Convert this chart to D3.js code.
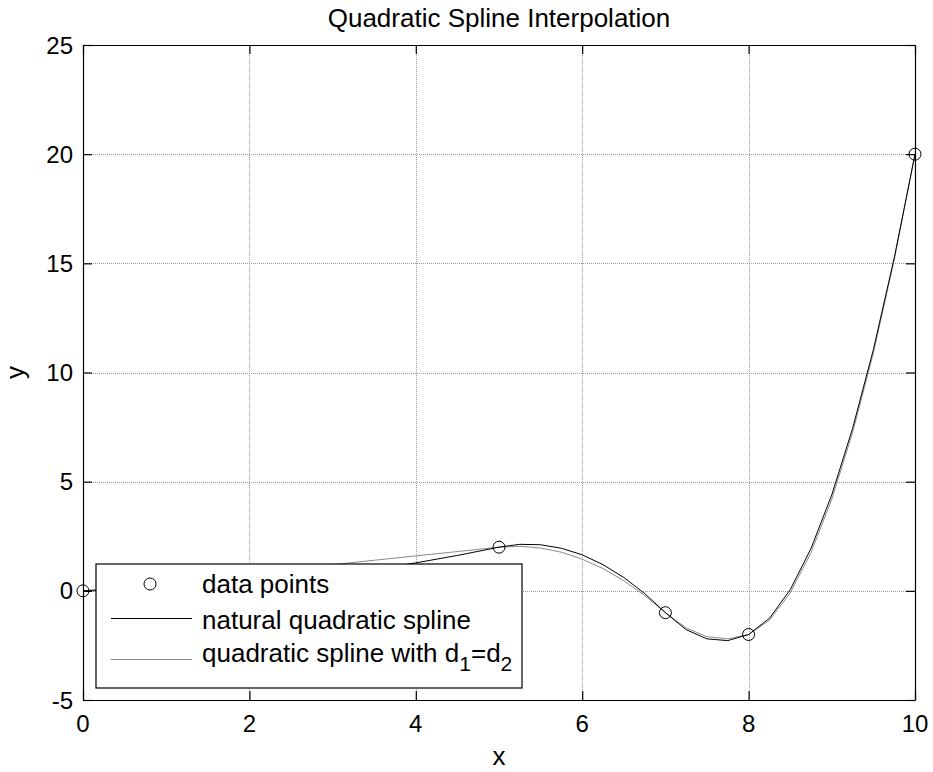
<!DOCTYPE html>
<html>
<head>
<meta charset="utf-8">
<title>Quadratic Spline Interpolation</title>
<script src="https://d3js.org/d3.v7.min.js"></script>
<style>
    body { margin: 0; background: #fff; }
    svg { display: block; font-family: "Liberation Sans", Arial, sans-serif; }
    .grid line { stroke: #9a9a9a; stroke-width: 1; stroke-dasharray: 1, 1; shape-rendering: crispEdges; }
    .tick-label { font-size: 24px; fill: #000; }
</style>
</head>
<body>
<svg></svg>
<script>
// data points
var dataX = [0, 5, 7, 8, 10];
var dataY = [0, 2, -1, -2, 20];

var curveX = [0, 0.5, 1, 1.5, 2, 2.5, 3, 3.5, 4, 4.5, 5,
    5.25, 5.5, 5.75, 6, 6.25, 6.5, 6.75, 7,
    7.25, 7.5, 7.75, 8,
    8.25, 8.5, 8.75, 9, 9.25, 9.5, 9.75, 10];
var naturalY = [0, 0.02, 0.08, 0.18, 0.32, 0.5, 0.72, 0.98, 1.28, 1.62, 2,
    2.13, 2.11, 1.95, 1.65, 1.2, 0.61, -0.12, -1,
    -1.78, -2.2, -2.28, -2,
    -1.26, 0.05, 1.94, 4.4, 7.44, 11.05, 15.24, 20];
var equalY = [0, 0.2, 0.4, 0.6, 0.8, 1, 1.2, 1.4, 1.6, 1.8, 2,
    2.04, 1.96, 1.77, 1.45, 1.02, 0.46, -0.21, -1,
    -1.7, -2.1, -2.2, -2,
    -1.35, -0.1, 1.75, 4.2, 7.25, 10.9, 15.15, 20];

var xTicks = [0, 2, 4, 6, 8, 10];
var yTicks = [-5, 0, 5, 10, 15, 20, 25];

var W = 933, H = 772;
var margin = {top: 45, right: 18, bottom: 72, left: 83};
var width = W - margin.left - margin.right,
    height = H - margin.top - margin.bottom;

var svg = d3.select("svg").attr("width", W).attr("height", H);
var g = svg.append("g").attr("transform", "translate(" + margin.left + "," + margin.top + ")");

var x = d3.scaleLinear().domain([0, 10]).range([0, width]);
var y = d3.scaleLinear().domain([-5, 25]).range([height, 0]);

// grid
var grid = g.append("g").attr("class", "grid");
grid.selectAll("line.gx").data(xTicks.slice(1, -1)).enter().append("line")
    .attr("x1", function (d) { return Math.round(x(d)) + 0.5; })
    .attr("x2", function (d) { return Math.round(x(d)) + 0.5; })
    .attr("y1", 0).attr("y2", height);
grid.selectAll("line.gy").data(yTicks.slice(1, -1)).enter().append("line")
    .attr("y1", function (d) { return Math.round(y(d)) + 0.5; })
    .attr("y2", function (d) { return Math.round(y(d)) + 0.5; })
    .attr("x1", 0).attr("x2", width);

// curves
var line = d3.line()
    .x(function (d) { return x(d[0]); })
    .y(function (d) { return y(d[1]); });

g.append("path")
    .datum(d3.zip(curveX, equalY))
    .attr("d", line)
    .attr("fill", "none")
    .attr("stroke", "#8a8a8a")
    .attr("stroke-width", 1);

g.append("path")
    .datum(d3.zip(curveX, naturalY))
    .attr("d", line)
    .attr("fill", "none")
    .attr("stroke", "#000")
    .attr("stroke-width", 1);

// axes (box with inward ticks on all sides)
var tickLen = 9;
var bottomAxis = d3.axisBottom(x).tickValues(xTicks).tickSizeInner(-tickLen).tickSizeOuter(0).tickFormat("");
var topAxis = d3.axisTop(x).tickValues(xTicks).tickSizeInner(-tickLen).tickSizeOuter(0).tickFormat("");
var leftAxis = d3.axisLeft(y).tickValues(yTicks).tickSizeInner(-tickLen).tickSizeOuter(0).tickFormat("");
var rightAxis = d3.axisRight(y).tickValues(yTicks).tickSizeInner(-tickLen).tickSizeOuter(0).tickFormat("");

g.append("g").attr("transform", "translate(0," + height + ")").call(bottomAxis);
g.append("g").call(topAxis);
g.append("g").call(leftAxis);
g.append("g").attr("transform", "translate(" + width + ",0)").call(rightAxis);
g.selectAll(".domain, .tick line").attr("stroke", "#000").attr("stroke-width", 1.2);

// tick labels
g.selectAll("text.xl").data(xTicks).enter().append("text")
    .attr("class", "tick-label")
    .attr("x", function (d) { return x(d); })
    .attr("y", height + 32)
    .attr("text-anchor", "middle")
    .text(function (d) { return d; });
g.selectAll("text.yl").data(yTicks).enter().append("text")
    .attr("class", "tick-label")
    .attr("x", -10)
    .attr("y", function (d) { return y(d); })
    .attr("dy", "0.36em")
    .attr("text-anchor", "end")
    .text(function (d) { return d; });

// data markers
g.selectAll("circle.pt").data(d3.zip(dataX, dataY)).enter().append("circle")
    .attr("cx", function (d) { return x(d[0]); })
    .attr("cy", function (d) { return y(d[1]); })
    .attr("r", 6)
    .attr("fill", "none")
    .attr("stroke", "#000")
    .attr("stroke-width", 1);

// titles
svg.append("text")
    .attr("x", margin.left + width / 2)
    .attr("y", 27)
    .attr("text-anchor", "middle")
    .style("font-size", "26px")
    .text("Quadratic Spline Interpolation");
svg.append("text")
    .attr("x", margin.left + width / 2)
    .attr("y", 765)
    .attr("text-anchor", "middle")
    .style("font-size", "26px")
    .text("x");
svg.append("text")
    .attr("transform", "translate(24," + (margin.top + height / 2) + ") rotate(-90)")
    .attr("text-anchor", "middle")
    .style("font-size", "26px")
    .text("y");

// legend
var leg = svg.append("g").attr("transform", "translate(96,564)");
leg.append("rect")
    .attr("width", 426).attr("height", 124)
    .attr("fill", "#fff").attr("stroke", "#000").attr("stroke-width", 1.2);

leg.append("circle").attr("cx", 54).attr("cy", 20).attr("r", 6)
    .attr("fill", "none").attr("stroke", "#000");
leg.append("line").attr("x1", 15).attr("x2", 96).attr("y1", 54.5).attr("y2", 54.5)
    .attr("stroke", "#000");
leg.append("line").attr("x1", 15).attr("x2", 96).attr("y1", 95.5).attr("y2", 95.5)
    .attr("stroke", "#8a8a8a");

leg.append("text").attr("x", 106).attr("y", 29).style("font-size", "26px").text("data points");
leg.append("text").attr("x", 106).attr("y", 65).style("font-size", "26px").text("natural quadratic spline");
var t3 = leg.append("text").attr("x", 106).attr("y", 98).style("font-size", "26px");
t3.append("tspan").text("quadratic spline with d");
t3.append("tspan").attr("dy", 9).style("font-size", "21px").text("1");
t3.append("tspan").attr("dy", -9).text("=d");
t3.append("tspan").attr("dy", 9).style("font-size", "21px").text("2");
</script>
</body>
</html>
